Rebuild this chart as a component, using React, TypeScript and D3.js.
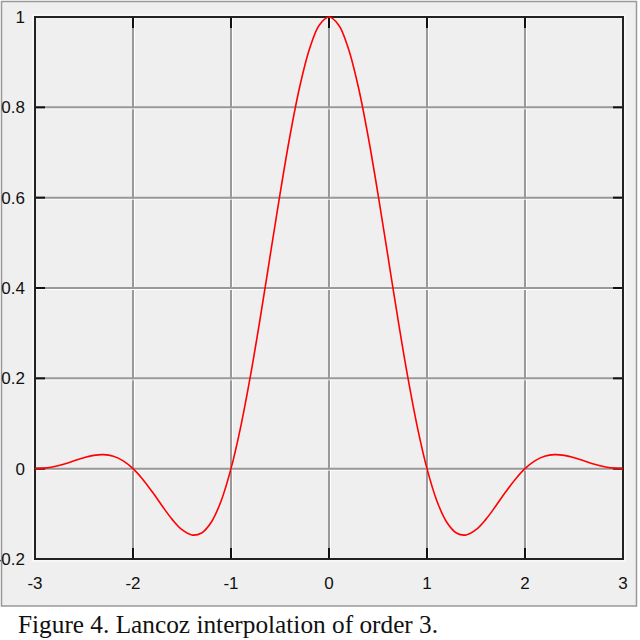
import React from "react";
import * as d3 from "d3";

const xValues = [
  -3.0, -2.9, -2.8, -2.7, -2.6, -2.5, -2.4, -2.3, -2.2, -2.1,
  -2.0, -1.9, -1.8, -1.7, -1.6, -1.5, -1.4, -1.3, -1.2, -1.1,
  -1.0, -0.9, -0.8, -0.7, -0.6, -0.5, -0.4, -0.3, -0.2, -0.1,
  0.0, 0.1, 0.2, 0.3, 0.4, 0.5, 0.6, 0.7, 0.8, 0.9,
  1.0, 1.1, 1.2, 1.3, 1.4, 1.5, 1.6, 1.7, 1.8, 1.9,
  2.0, 2.1, 2.2, 2.3, 2.4, 2.5, 2.6, 2.7, 2.8, 2.9, 3.0,
];
const yValues = [
  0.0, 0.0012, 0.0047, 0.0104, 0.0174, 0.0243, 0.0295, 0.0311, 0.0274, 0.0172,
  0.0, -0.0238, -0.0524, -0.0832, -0.1123, -0.1351, -0.1467, -0.1423, -0.118, -0.0709,
  0.0, 0.0938, 0.2075, 0.3358, 0.472, 0.6079, 0.7349, 0.8444, 0.9287, 0.9819,
  1.0, 0.9819, 0.9287, 0.8444, 0.7349, 0.6079, 0.472, 0.3358, 0.2075, 0.0938,
  0.0, -0.0709, -0.118, -0.1423, -0.1467, -0.1351, -0.1123, -0.0832, -0.0524, -0.0238,
  0.0, 0.0172, 0.0274, 0.0311, 0.0295, 0.0243, 0.0174, 0.0104, 0.0047, 0.0012, 0.0,
];
const xTicks = [-3, -2, -1, 0, 1, 2, 3];
const xTickLabels = ["-3", "-2", "-1", "0", "1", "2", "3"];
const yTicks = [1, 0.8, 0.6, 0.4, 0.2, 0, -0.2];
const yTickLabels = ["1", "0.8", "0.6", "0.4", "0.2", "0", "-0.2"];
const caption = "Figure 4. Lancoz interpolation of order 3.";

export default function App() {
  const left = 35, right = 623, top = 17, bottom = 559;
  const x = d3.scaleLinear().domain([-3, 3]).range([left, right]);
  const y = d3.scaleLinear().domain([-0.2, 1]).range([bottom, top]);
  const pts = xValues.map((v, i) => [v, yValues[i]] as [number, number]);
  const line = d3
    .line<[number, number]>()
    .x((d) => x(d[0]))
    .y((d) => y(d[1]))
    .curve(d3.curveCatmullRom.alpha(0.5));
  const font = "'Liberation Sans', Arial, sans-serif";
  return (
    <svg
      width={640}
      height={640}
      style={{ position: "absolute", left: 0, top: 0, background: "#fff" }}
    >
      <rect x={1.5} y={1.5} width={635} height={604.5} fill="#efefef" stroke="#999" strokeWidth={1.5} />
      {/* grid */}
      {xTicks.slice(1, -1).map((t) => (
        <g key={"gx" + t}>
          <line x1={x(t) + 1.5} x2={x(t) + 1.5} y1={top} y2={bottom} stroke="#fff" strokeWidth={1} />
          <line x1={x(t)} x2={x(t)} y1={top} y2={bottom} stroke="#999" strokeWidth={2} />
        </g>
      ))}
      {yTicks.slice(1, -1).map((t) => (
        <g key={"gy" + t}>
          <line x1={left} x2={right} y1={y(t) + 1.5} y2={y(t) + 1.5} stroke="#fff" strokeWidth={1} />
          <line x1={left} x2={right} y1={y(t)} y2={y(t)} stroke="#999" strokeWidth={2} />
        </g>
      ))}
      {/* ticks */}
      {xTicks.slice(1, -1).map((t) => (
        <g key={"tx" + t}>
          <line x1={x(t)} x2={x(t)} y1={bottom} y2={bottom - 11} stroke="#111" strokeWidth={2} />
          <line x1={x(t)} x2={x(t)} y1={top} y2={top + 11} stroke="#111" strokeWidth={2} />
        </g>
      ))}
      {yTicks.slice(1, -1).map((t) => (
        <g key={"ty" + t}>
          <line x1={left} x2={left + 10} y1={y(t)} y2={y(t)} stroke="#111" strokeWidth={2} />
          <line x1={right} x2={right - 10} y1={y(t)} y2={y(t)} stroke="#111" strokeWidth={2} />
        </g>
      ))}
      {/* frame */}
      <rect x={left - 2} y={top - 2} width={right - left + 4} height={bottom - top + 4} fill="none" stroke="#fff" strokeWidth={1} />
      <rect x={left} y={top} width={right - left} height={bottom - top} fill="none" stroke="#222" strokeWidth={2} />
      {/* curve */}
      <path d={line(pts) || ""} fill="none" stroke="#ff0000" strokeWidth={1.6} />
      {/* labels */}
      {yTicks.map((t, i) => (
        <text key={"ly" + t} x={25} y={y(t)} dy="0.35em" textAnchor="end" fontFamily={font} fontSize={17} fill="#111">
          {yTickLabels[i]}
        </text>
      ))}
      {xTicks.map((t, i) => (
        <text key={"lx" + t} x={x(t)} y={583} dy="0.35em" textAnchor="middle" fontFamily={font} fontSize={17} fill="#111">
          {xTickLabels[i]}
        </text>
      ))}
      <text x={18} y={633} fontFamily="'Liberation Serif', 'Times New Roman', serif" fontSize={25.3} fill="#111">
        {caption}
      </text>
    </svg>
  );
}
